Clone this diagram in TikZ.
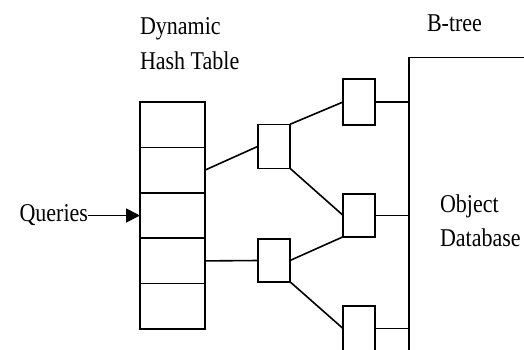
\documentclass[tikz,border=0pt]{standalone}
\usepackage{fontspec}
\setmainfont{Liberation Serif}
\usetikzlibrary{arrows.meta,calc}
\newcommand{\lbltext}[1]{\scalebox{1.1}[1.28]{\fontsize{20bp}{26.6bp}\selectfont\begin{tabular}[b]{@{}l@{}}#1\end{tabular}}}
\begin{document}
\begin{tikzpicture}[x=1bp,y=-1bp,
  ln/.style={line width=1.6bp,black},
  cell/.style={draw,line width=1.6bp,minimum width=65bp,minimum height=45.4bp,inner sep=0pt,outer sep=0pt},
  bbox/.style={draw,line width=1.6bp,minimum width=32bp,minimum height=44bp,inner sep=0pt,outer sep=0pt},
  lbl/.style={inner sep=0pt,outer sep=0pt}]
\useasboundingbox (0,0) rectangle (524,349);
% hash table cells
\node[cell] (c1) at (172.5,124.7) {};
\node[cell] (c2) at (172.5,170.1) {};
\node[cell] (c3) at (172.5,215.5) {};
\node[cell] (c4) at (172.5,260.9) {};
\node[cell] (c5) at (172.5,306.3) {};
% middle boxes
\node[bbox] (m1) at (274,146.3) {};
\node[bbox,minimum height=42.5bp] (m2) at (274,260.5) {};
% right boxes
\node[bbox,minimum height=46bp] (r1) at (359,102) {};
\node[bbox,minimum height=43bp] (r2) at (359,215.3) {};
\node[bbox,minimum height=45bp] (r3) at (359,328.5) {};
% B-tree line
\coordinate (bt) at (409,57.3);
\coordinate (btb) at (409,352);
\coordinate (btr) at (526,57.3);
\draw[ln] (btb) -- (bt) -- (btr);
% labels
\node[lbl,anchor=base west] (dht) at (140,69) {\lbltext{Dynamic\\Hash Table}};
\node[lbl,anchor=base west] (btl) at (427,31.7) {\lbltext{B-tree}};
\node[lbl,anchor=base west] (odb) at (440,246.7) {\lbltext{Object\\Database}};
\node[lbl,anchor=base east] (q) at (88,221.7) {\lbltext{Queries}};
% connectors
\draw[ln,-{Triangle[length=14bp,width=14bp]}] (q.east |- c3.west) -- (c3.west);
\draw[ln] (c2.east) -- (m1.west);
\draw[ln] (c4.east) -- (m2.west);
\draw[ln] (m1.north east) -- (r1.west);
\draw[ln] (m1.south east) -- (r2.west);
\draw[ln] (m2.east) -- (r2.south west);
\draw[ln] (m2.south east) -- (r3.west);
\draw[ln] (r1.east) -- (r1.east -| bt);
\draw[ln] (r2.east) -- (r2.east -| bt);
\draw[ln] (r3.east) -- (r3.east -| bt);
\end{tikzpicture}
\end{document}
